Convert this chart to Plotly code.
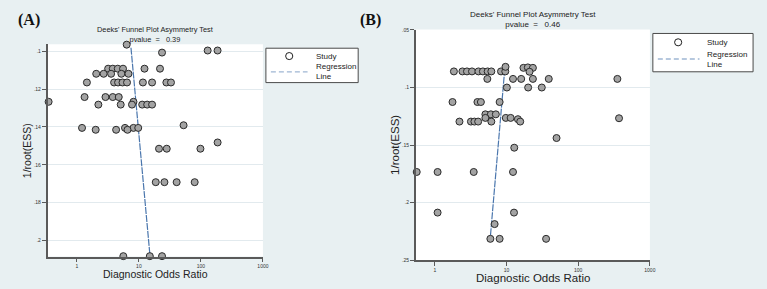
import plotly.graph_objects as go

# ---------------- Panel A data ----------------
a_dor = [6.36, 23.6, 128.5, 185.6,
         3.19, 3.79, 4.56, 5.55, 12.3, 21.9,
         2.05, 2.70, 3.56, 5.21, 6.79,
         1.45, 3.98, 4.61, 5.44, 6.43, 11.6, 16.3, 27.7, 32.9,
         1.33, 2.89, 3.79, 4.73,
         8.17, 0.35,
         2.22, 5.09, 7.73, 11.3, 13.6, 16.3,
         52.5,
         1.21, 5.97, 8.17, 9.75,
         2.01, 4.29, 6.55,
         186.0,
         21.1, 28.1, 98.2,
         18.7, 25.8, 40.6, 79.3,
         5.61, 15.0, 23.6]
a_ess = [0.0965, 0.1007, 0.0996, 0.0996,
         0.1092, 0.1092, 0.1092, 0.1092, 0.1092, 0.1092,
         0.1119, 0.1119, 0.1119, 0.1119, 0.1119,
         0.1165, 0.1165, 0.1165, 0.1165, 0.1165, 0.1165, 0.1165, 0.1165, 0.1165,
         0.1242, 0.1242, 0.1242, 0.1242,
         0.1267, 0.1267,
         0.1282, 0.1282, 0.1282, 0.1282, 0.1282, 0.1282,
         0.1391,
         0.1405, 0.1405, 0.1405, 0.1405,
         0.1415, 0.1415, 0.1415,
         0.1482,
         0.1515, 0.1515, 0.1515,
         0.1692, 0.1692, 0.1692, 0.1692,
         0.2083, 0.2083, 0.2083]
a_line_dor = [7.45, 15.0]
a_line_ess = [0.0981, 0.2071]
a_pvalue = "0.39"
a_yticks = [0.10, 0.12, 0.14, 0.16, 0.18, 0.20]
a_yticklabels = [".1", ".12", ".14", ".16", ".18", ".2"]

# ---------------- Panel B data ----------------
b_dor = [1.84, 2.42, 2.80, 3.29, 4.05, 4.67, 5.44, 6.13, 8.36, 9.59,
         9.66,
         17.2, 19.8, 23.3, 20.9,
         5.39, 12.3, 16.0, 23.3, 38.8, 352.0,
         10.1, 20.0, 31.0,
         1.76, 3.92, 4.38, 8.0,
         5.06, 6.04, 7.08,
         9.75, 11.4, 14.4, 5.06,
         2.20, 3.18, 3.56, 4.01, 6.13, 15.5,
         371.0,
         49.8,
         12.8,
         0.557, 1.09, 3.48, 12.3,
         1.09, 12.7,
         6.81,
         5.94, 8.0, 35.6]
b_ess = [0.0860, 0.0860, 0.0860, 0.0860, 0.0860, 0.0860, 0.0860, 0.0860, 0.0860, 0.0860,
         0.0820,
         0.0829, 0.0825, 0.0829, 0.0863,
         0.0925, 0.0925, 0.0925, 0.0925, 0.0925, 0.0925,
         0.1000, 0.1000, 0.1000,
         0.1126, 0.1126, 0.1126, 0.1126,
         0.1233, 0.1233, 0.1233,
         0.1264, 0.1264, 0.1275, 0.1264,
         0.1296, 0.1296, 0.1296, 0.1296, 0.1296, 0.1296,
         0.1267,
         0.1439,
         0.1523,
         0.1734, 0.1734, 0.1734, 0.1734,
         0.2087, 0.2087,
         0.2187,
         0.2315, 0.2315, 0.2315]
b_line_dor = [9.44, 5.94]
b_line_ess = [0.0837, 0.2298]
b_pvalue = "0.46"
b_yticks = [0.05, 0.10, 0.15, 0.20, 0.25]
b_yticklabels = [".05", ".1", ".15", ".2", ".25"]

x_ticks = [1, 10, 100, 1000]
x_ticklabels = ["1", "10", "100", "1000"]
legend_labels = ["Study", "Regression<br>Line"]

W, H = 767, 289
BG = "#e8f0f2"
GRID = "#e2eaee"
AX = "#5a5a5a"
FONT = "Liberation Sans, Arial, sans-serif"
REG_COLOR = "#4a76ad"
LEG_LINE = "#9fb6d3"

def px_x(p):
    return p / W

def px_y(p):
    return 1 - p / H

fig = go.Figure()

marker_style = dict(size=7, color="#a3a3a3", line=dict(color="#2a2a2a", width=1))

for xa, ya, dor, ess, ldor, less in [
    ("x", "y", a_dor, a_ess, a_line_dor, a_line_ess),
    ("x2", "y2", b_dor, b_ess, b_line_dor, b_line_ess),
]:
    fig.add_trace(go.Scatter(x=ldor, y=less, mode="lines", xaxis=xa, yaxis=ya,
                             line=dict(color=REG_COLOR, width=1.2, dash="7px,1px"),
                             showlegend=False, cliponaxis=False, hoverinfo="skip",
                             name="Regression Line"))
    fig.add_trace(go.Scatter(x=dor, y=ess, mode="markers", xaxis=xa, yaxis=ya,
                             marker=marker_style, cliponaxis=False, showlegend=False,
                             name="Study"))

def xaxis_cfg(dom, rng, anchor):
    return dict(type="log", domain=dom, range=rng, anchor=anchor,
                tickvals=x_ticks, ticktext=x_ticklabels, ticks="outside", ticklen=4,
                tickwidth=1, tickcolor=AX, tickfont=dict(size=5, family=FONT, color="#333"),
                showline=True, linecolor=AX, linewidth=1.5, showgrid=False, zeroline=False)

def yaxis_cfg(dom, rng, anchor, tv, tt):
    return dict(domain=dom, range=rng, anchor=anchor, tickvals=tv, ticktext=tt,
                ticks="outside", ticklen=4, tickwidth=1, tickcolor=AX,
                tickfont=dict(size=5, family=FONT, color="#333"),
                showline=True, linecolor=AX, linewidth=1.5, showgrid=True,
                gridcolor=GRID, gridwidth=1, zeroline=False)

fig.update_layout(
    width=W, height=H, margin=dict(l=0, r=0, t=0, b=0),
    paper_bgcolor=BG, plot_bgcolor="white", showlegend=False,
    font=dict(family=FONT, color="#222"),
    xaxis=xaxis_cfg([px_x(48), px_x(265)], [-0.472, 3.0], "y"),
    yaxis=yaxis_cfg([px_y(258), px_y(42)], [0.2085, 0.0963], "x", a_yticks, a_yticklabels),
    xaxis2=xaxis_cfg([px_x(419), px_x(655)], [-0.268, 3.0], "y2"),
    yaxis2=yaxis_cfg([px_y(262), px_y(27)], [0.2503, 0.0496], "x2", b_yticks, b_yticklabels),
)

ann = []
shapes = []
# panel labels
ann.append(dict(text="<b>(A)</b>", x=px_x(29.5), y=px_y(17), showarrow=False,
                font=dict(family="Liberation Serif, Times New Roman, serif", size=16, color="#111")))
ann.append(dict(text="<b>(B)</b>", x=px_x(373.5), y=px_y(17), showarrow=False,
                font=dict(family="Liberation Serif, Times New Roman, serif", size=16, color="#111")))
# titles (two lines in one text block)
for cx, cy, pv, fs in [(156.5, 32.5, a_pvalue, 7.4), (537, 17, b_pvalue, 8.0)]:
    ann.append(dict(text="Deeks' Funnel Plot Asymmetry Test<br>pvalue  =   " + pv,
                    x=px_x(cx), y=px_y(cy), showarrow=False, align="center",
                    font=dict(size=fs, color="#222")))
# axis titles
ann.append(dict(text="Diagnostic Odds Ratio", x=px_x(156.5), y=px_y(275.5), showarrow=False,
                font=dict(size=10.5, color="#222")))
ann.append(dict(text="Diagnostic Odds Ratio", x=px_x(537), y=px_y(279.5), showarrow=False,
                font=dict(size=11.5, color="#222")))
ann.append(dict(text="1/root(ESS)", x=px_x(28), y=px_y(150), showarrow=False, textangle=-90,
                font=dict(size=10.5, color="#222")))
ann.append(dict(text="1/root(ESS)", x=px_x(398), y=px_y(144.5), showarrow=False, textangle=-90,
                font=dict(size=11.5, color="#222")))

# legends (box, symbol, dashed line, labels)
for (bx0, by0, bx1, by1, cx, cy, lx0, lx1, ly, tx, ty1, ty2) in [
    (268, 46, 361, 81, 291.5, 54, 273, 310, 70, 316, 54, 69.5),
    (658, 31, 759, 70, 683.5, 40, 663, 705, 57, 711, 40, 57),
]:
    shapes.append(dict(type="rect", xref="paper", yref="paper",
                       x0=px_x(bx0), x1=px_x(bx1), y0=px_y(by1), y1=px_y(by0),
                       fillcolor="white", line=dict(color="#4a4a4a", width=1), layer="above"))
    r = 3.6
    shapes.append(dict(type="circle", xref="paper", yref="paper",
                       x0=px_x(cx - r), x1=px_x(cx + r), y0=px_y(cy + r), y1=px_y(cy - r),
                       line=dict(color="#1e1e1e", width=1), layer="above"))
    shapes.append(dict(type="line", xref="paper", yref="paper",
                       x0=px_x(lx0), x1=px_x(lx1), y0=px_y(ly), y1=px_y(ly),
                       line=dict(color=LEG_LINE, width=1.3, dash="5px,3px"), layer="above"))
    ann.append(dict(text=legend_labels[0], x=px_x(tx), y=px_y(ty1), xanchor="left",
                    showarrow=False, font=dict(size=8, color="#222")))
    ann.append(dict(text=legend_labels[1], x=px_x(tx), y=px_y(ty2), xanchor="left",
                    align="left", showarrow=False, font=dict(size=8, color="#222")))

for a in ann:
    a.setdefault("xref", "paper")
    a.setdefault("yref", "paper")
    a.setdefault("xanchor", "center")
    a.setdefault("yanchor", "middle")
fig.update_layout(annotations=ann, shapes=shapes)

fig.write_html("out.html")
